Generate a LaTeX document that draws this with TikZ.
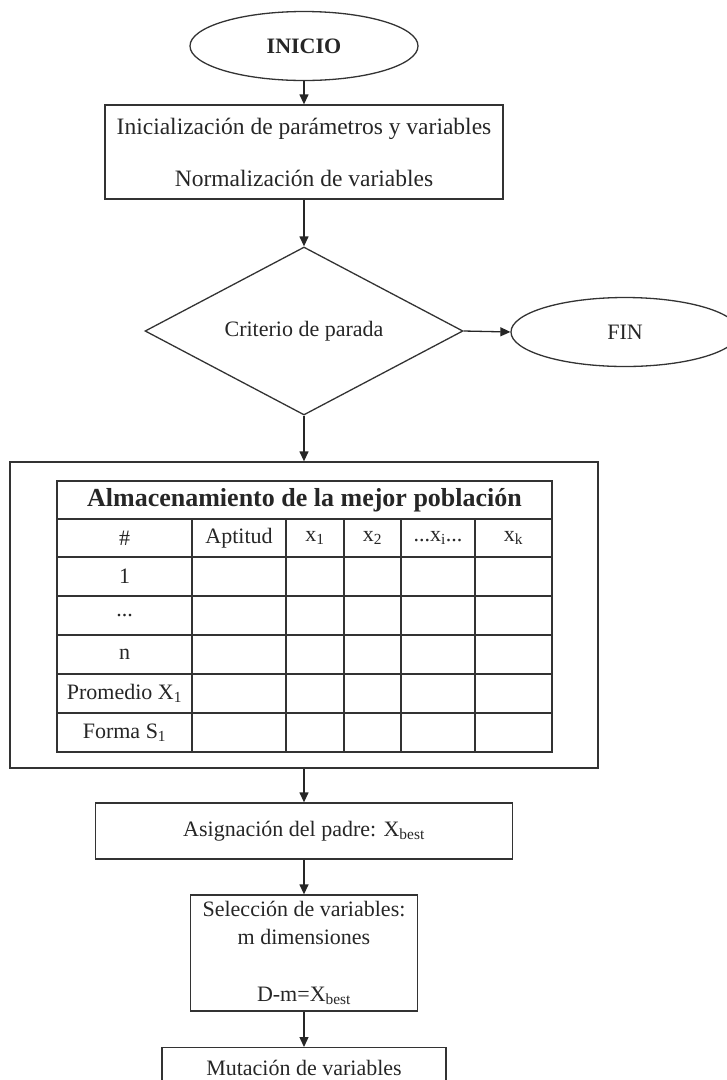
\documentclass[tikz,border=0pt]{standalone}
\usepackage{fontspec}
\setmainfont{Liberation Serif}
\usetikzlibrary{shapes.geometric,arrows.meta}
\begin{document}
\begin{tikzpicture}[x=1pt,y=-1pt,
  shapeline/.style={draw=black!80, line width=1.3pt},
  txt/.style={font=\fontsize{22}{26}\selectfont, text=black!85},
  proc/.style={shapeline, rectangle, inner sep=0pt, txt, align=center},
  term/.style={shapeline, ellipse, minimum width=228pt, minimum height=69pt, inner sep=0pt, txt},
  flow/.style={draw=black!85, line width=1.3pt, -{Triangle[length=10pt,width=9pt]}},
  gridline/.style={draw=black!80, line width=1.3pt},
  cell/.style={txt, inner sep=0pt}
]
\useasboundingbox (0,0) rectangle (727,1080);

% terminals and steps
\node[term, font={\fontsize{22}{26}\selectfont\bfseries}] (start) at (304,46) {INICIO};
\node[proc, minimum width=398pt, minimum height=94pt, font=\fontsize{23.5}{52}\selectfont] (init) at (304,152)
  {Inicialización de parámetros y variables\\Normalización de variables};
\node[shapeline, diamond, aspect=1.89, minimum width=318pt, minimum height=168pt, inner sep=0pt, txt] (stop) at (304,331) {Criterio de parada};
\node[term] (end) at (625,332) {FIN};

% storage box with table
\node[shapeline, rectangle, minimum width=588pt, minimum height=306pt, inner sep=0pt] (store) at (304,615) {};
\draw[gridline] (57,481) rectangle (552,752);
\foreach \yy in {519,557,596,635,674,713} \draw[gridline] (57,\yy) -- (552,\yy);
\foreach \xx in {192,286,344,401,475} \draw[gridline] (\xx,519) -- (\xx,752);

\node[cell, font={\fontsize{26}{30}\selectfont\bfseries}] (title) at (304.5,500) {Almacenamiento de la mejor población};
\node[cell] (hnum) at (124.5,538) {\#};
\node[cell] (hapt) at (239,538) {Aptitud};
\node[cell] (hx1) at (315,538) {x\textsubscript{1}};
\node[cell] (hx2) at (372.5,538) {x\textsubscript{2}};
\node[cell] (hxi) at (438,538) {...x\textsubscript{i}...};
\node[cell] (hxk) at (513.5,538) {x\textsubscript{k}};
\node[cell] (r1) at (124.5,576.5) {1};
\node[cell] (r2) at (124.5,615.5) {...};
\node[cell] (r3) at (124.5,654.5) {n};
\node[cell] (r4) at (124.5,693.5) {Promedio X\textsubscript{1}};
\node[cell] (r5) at (124.5,732.5) {Forma S\textsubscript{1}};

% lower steps
\node[proc, minimum width=417pt, minimum height=56pt] (asig) at (304,831) {Asignación del padre: X\textsubscript{best}};
\node[proc, minimum width=227pt, minimum height=116pt, font=\fontsize{22}{28}\selectfont] (sel) at (304,953)
  {Selección de variables:\\m dimensiones\\[29pt]D-m=X\textsubscript{best}};
\node[proc, anchor=north, minimum width=284pt, text height=20pt, text depth=40pt, inner ysep=8pt] (mut) at (304,1047) {Mutación de variables};

% connectors
\draw[flow] (start.south) -- (init.north);
\draw[flow] (init.south) -- (stop.north);
\draw[flow] (stop.east) -- (end.west);
\draw[flow] (stop.south) -- (store.north);
\draw[flow] (store.south) -- (asig.north);
\draw[flow] (asig.south) -- (sel.north);
\draw[flow] (sel.south) -- (mut.north);
\end{tikzpicture}
\end{document}
